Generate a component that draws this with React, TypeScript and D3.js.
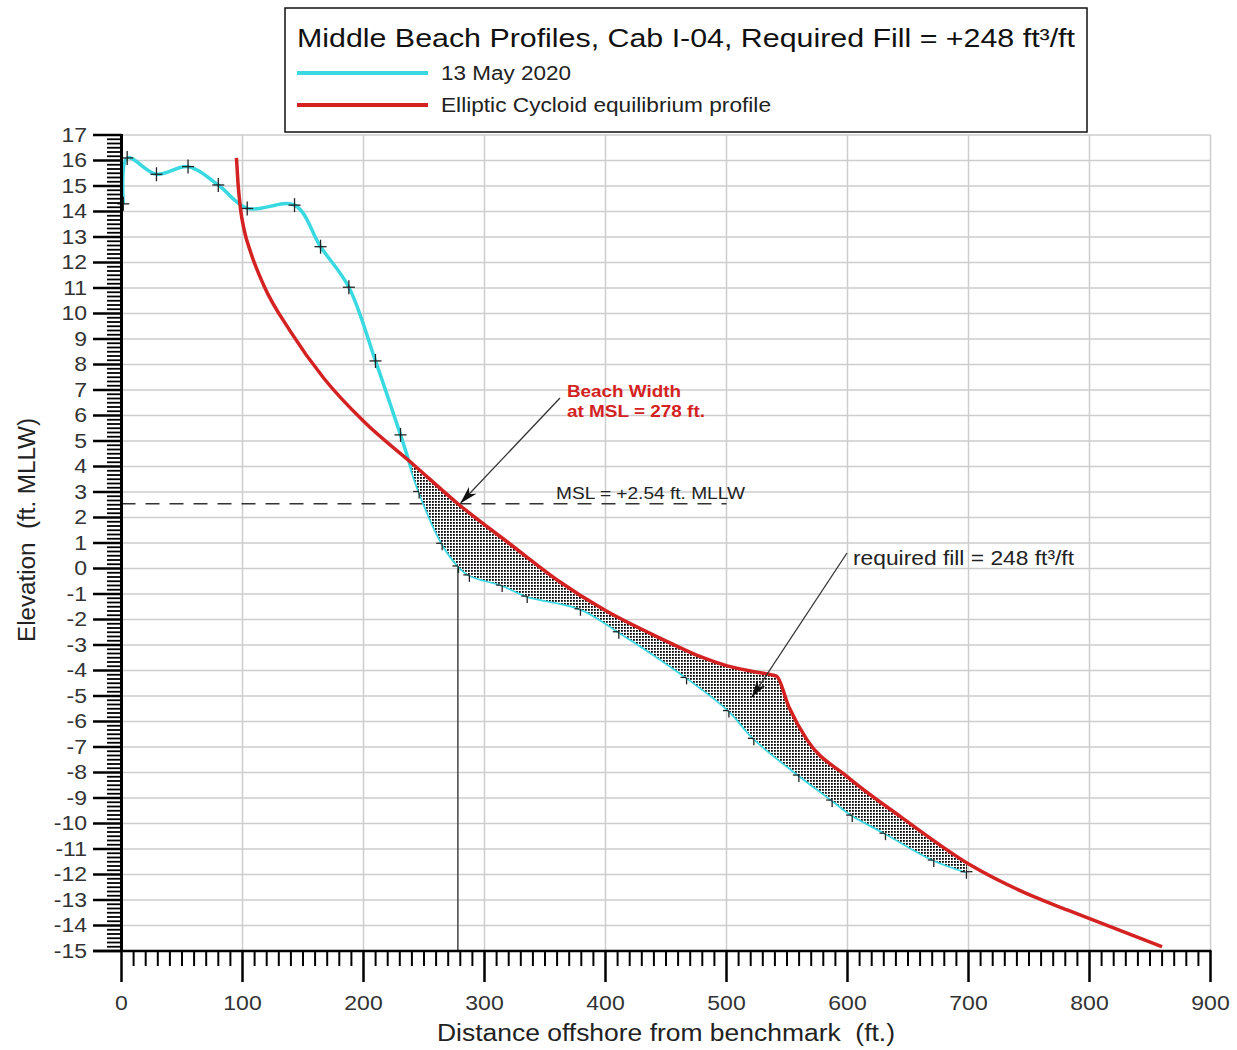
import React from "react";
import * as d3 from "d3";

// 13 May 2020 survey: distance offshore (ft) and elevation (ft MLLW)
const surveyDist = [1.5, 4.7, 28.9, 55, 80, 103.9, 143, 164.5, 187.9, 209.9, 230.6, 246, 265, 278.5, 287.5, 314.6, 335.3, 379.3, 411, 467, 502, 522.6, 559.8, 587.3, 603.9, 631.4, 671.3, 698.3];
const surveyElev = [14.3, 16.1, 15.46, 15.76, 15.04, 14.12, 14.25, 12.62, 11.03, 8.14, 5.24, 3.02, 0.99, 0.1, -0.25, -0.65, -1.08, -1.58, -2.48, -4.27, -5.57, -6.66, -8.1, -9.08, -9.67, -10.38, -11.43, -11.89];

// Elliptic cycloid equilibrium profile
const eqDist = [95, 96.3, 98.3, 101.5, 106.6, 117.6, 139.7, 167.2, 200.3, 241.6, 278, 320, 360, 400, 445.5, 478.5, 500.6, 528, 541.3, 551.5, 566.7, 599.7, 643.8, 701.6, 754, 781.5, 860];
const eqElev = [16.1, 15.1, 14.12, 13.25, 12.42, 11.1, 9.29, 7.46, 5.76, 4.06, 2.54, 1.0, -0.45, -1.65, -2.74, -3.46, -3.82, -4.09, -4.22, -5.42, -6.73, -8.16, -9.73, -11.63, -12.87, -13.39, -14.83];

const xTicks = [0, 100, 200, 300, 400, 500, 600, 700, 800, 900];
const yTicks = d3.range(-15, 18);

const MSL = 2.54;
const BEACH_WIDTH = 278;
const REQUIRED_FILL = 248;
const FILL_START = 240;
const FILL_END = 702;

const CYAN = "#3ad9e2";
const RED = "#d42222";
const FONT = "'Liberation Sans', Arial, sans-serif";
const STRETCH = 1.18;

const x = d3.scaleLinear().domain([0, 900]).range([121.5, 1210.5]);
const y = d3.scaleLinear().domain([-15, 17]).range([951, 135]);

type Pt = { d: number; e: number };
const survey: Pt[] = surveyDist.map((d, i) => ({ d, e: surveyElev[i] }));
const equilibrium: Pt[] = eqDist.map((d, i) => ({ d, e: eqElev[i] }));

const surveyLine = d3.line<Pt>().x(p => x(p.d)).y(p => y(p.e)).curve(d3.curveCatmullRom.alpha(0.5));
const eqLine = d3.line<Pt>().x(p => x(p.d)).y(p => y(p.e)).curve(d3.curveMonotoneX);
const aboveSurvey = d3.area<Pt>().x(p => x(p.d)).y0(y(17)).y1(p => y(p.e)).curve(d3.curveCatmullRom.alpha(0.5));
const belowEq = d3.area<Pt>().x(p => x(p.d)).y0(y(-15)).y1(p => y(p.e)).curve(d3.curveMonotoneX);

const minorX = d3.range(0, 901, 10).filter(v => v % 100 !== 0);
const minorY = d3.range(-15 * 6, 17 * 6 + 1).filter(v => v % 6 !== 0).map(v => v / 6);

const fitted = { lengthAdjust: "spacingAndGlyphs" as const };

export default function App() {
  const axisX = x(0);
  const axisY = y(-15);
  const mslY = y(MSL);
  return (
    <svg width={1237} height={1050} style={{ position: "absolute", left: 0, top: 0, background: "#fff" }} fontFamily={FONT}>
      <defs>
        <pattern id="dots" width={3} height={3} patternUnits="userSpaceOnUse">
          <rect width={3} height={3} fill="#fff" />
          <rect width={1.8} height={1.8} fill="#000" />
        </pattern>
        <clipPath id="fillRange">
          <rect x={x(FILL_START)} y={y(17)} width={x(FILL_END) - x(FILL_START)} height={y(-15) - y(17)} />
        </clipPath>
        <clipPath id="aboveSurvey">
          <path d={aboveSurvey(survey) || ""} />
        </clipPath>
        <marker id="arrow" viewBox="0 0 18 10" refX={17} refY={5} markerWidth={18} markerHeight={10} markerUnits="userSpaceOnUse" orient="auto">
          <path d="M0,0 L18,5 L0,10 L5,5 Z" fill="#111" />
        </marker>
      </defs>

      {/* grid */}
      <g stroke="#cdcdcd" strokeWidth={1.5}>
        {yTicks.filter(t => t > -15).map(t => (
          <line key={"gy" + t} x1={axisX} x2={x(900)} y1={y(t)} y2={y(t)} />
        ))}
        {xTicks.filter(t => t > 0).map(t => (
          <line key={"gx" + t} x1={x(t)} x2={x(t)} y1={y(17)} y2={axisY} />
        ))}
      </g>

      {/* mean sea level and beach width */}
      <line x1={axisX} x2={x(500)} y1={mslY} y2={mslY} stroke="#333" strokeWidth={1.3} strokeDasharray="14 10" />
      <line x1={x(BEACH_WIDTH)} x2={x(BEACH_WIDTH)} y1={mslY} y2={axisY} stroke="#444" strokeWidth={1.5} />

      {/* survey profile */}
      <path d={surveyLine(survey) || ""} fill="none" stroke={CYAN} strokeWidth={3.5} />
      <g stroke="#222" strokeWidth={1.3}>
        {survey.map((p, i) => (
          <g key={"m" + i}>
            <line x1={x(p.d) - 6} x2={x(p.d) + 6} y1={y(p.e)} y2={y(p.e)} />
            <line x1={x(p.d)} x2={x(p.d)} y1={y(p.e) - 7} y2={y(p.e) + 7} />
          </g>
        ))}
      </g>

      {/* required fill between profiles */}
      <g clipPath="url(#fillRange)">
        <path d={belowEq(equilibrium) || ""} fill="url(#dots)" clipPath="url(#aboveSurvey)" />
      </g>

      {/* equilibrium profile */}
      <path d={eqLine(equilibrium) || ""} fill="none" stroke={RED} strokeWidth={3.5} />

      {/* axes */}
      <g stroke="#000">
        {minorY.map((t, i) => (
          <line key={"my" + i} x1={107} x2={axisX} y1={y(t)} y2={y(t)} strokeWidth={1.8} />
        ))}
        {yTicks.map(t => (
          <line key={"My" + t} x1={93} x2={axisX} y1={y(t)} y2={y(t)} strokeWidth={2.5} />
        ))}
        <line x1={axisX} x2={axisX} y1={y(17) - 1} y2={axisY} strokeWidth={3} />
        <line x1={93} x2={x(900) + 1} y1={axisY} y2={axisY} strokeWidth={2.5} />
        {minorX.map(t => (
          <line key={"mx" + t} x1={x(t)} x2={x(t)} y1={axisY} y2={axisY + 15} strokeWidth={2} />
        ))}
        {xTicks.map(t => (
          <line key={"Mx" + t} x1={x(t)} x2={x(t)} y1={axisY} y2={axisY + 31} strokeWidth={2.5} />
        ))}
      </g>
      <g fill="#333" fontSize={19.5}>
        {yTicks.map(t => (
          <text key={"ly" + t} transform={`translate(87,${y(t)}) scale(${STRETCH},1)`} dy="0.35em" textAnchor="end">{t}</text>
        ))}
        {xTicks.map(t => (
          <text key={"lx" + t} transform={`translate(${x(t)},1010) scale(${STRETCH},1)`} textAnchor="middle">{t}</text>
        ))}
      </g>
      <text x={437} y={1041} fontSize={23} fill="#222" textLength={458} {...fitted} style={{ whiteSpace: "pre" }}>Distance offshore from benchmark  (ft.)</text>
      <text transform={`translate(35,642) rotate(-90)`} fontSize={23} fill="#222" textLength={224} {...fitted} style={{ whiteSpace: "pre" }}>Elevation  (ft. MLLW)</text>

      {/* annotations */}
      <text x={556} y={499} fontSize={16.5} fill="#222" textLength={189} {...fitted}>MSL = +2.54 ft. MLLW</text>
      <g fill={RED} fontSize={16.5} fontWeight="bold">
        <text x={567} y={397} textLength={114} {...fitted}>Beach Width</text>
        <text x={567} y={417} textLength={138} {...fitted}>at MSL = {BEACH_WIDTH} ft.</text>
      </g>
      <line x1={560} y1={398} x2={x(BEACH_WIDTH) + 3} y2={mslY - 1} stroke="#333" strokeWidth={1.3} markerEnd="url(#arrow)" />
      <text x={853} y={565} fontSize={20} fill="#222" textLength={221} {...fitted}>required fill = {REQUIRED_FILL} ft³/ft</text>
      <line x1={847} y1={553} x2={752} y2={697} stroke="#333" strokeWidth={1.3} markerEnd="url(#arrow)" />

      {/* legend */}
      <rect x={285} y={8} width={802} height={124} fill="#fff" stroke="#111" strokeWidth={1.5} />
      <text x={297} y={47} fontSize={26} fill="#111" textLength={778} {...fitted}>Middle Beach Profiles, Cab I-04, Required Fill = +{REQUIRED_FILL} ft³/ft</text>
      <line x1={297} x2={428} y1={73} y2={73} stroke={CYAN} strokeWidth={4} />
      <text x={441} y={80} fontSize={20} fill="#222" textLength={130} {...fitted}>13 May 2020</text>
      <line x1={297} x2={428} y1={105} y2={105} stroke={RED} strokeWidth={4} />
      <text x={441} y={112} fontSize={20} fill="#222" textLength={330} {...fitted}>Elliptic Cycloid equilibrium profile</text>
    </svg>
  );
}
